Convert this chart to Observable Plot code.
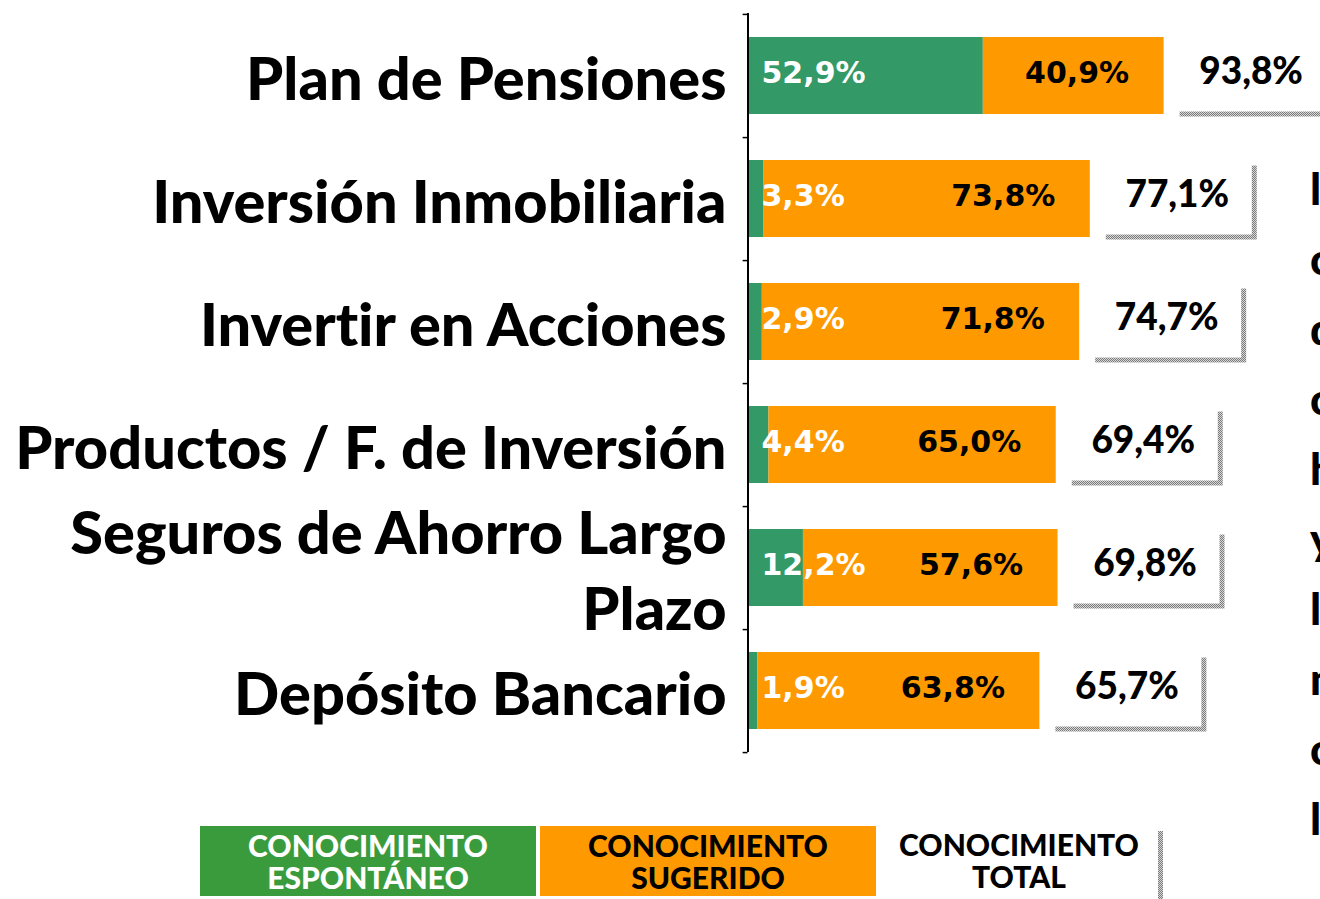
<!DOCTYPE html>
<html>
<head>
<meta charset="utf-8">
<script src="https://cdn.jsdelivr.net/npm/d3@7"></script>
<script src="https://cdn.jsdelivr.net/npm/@observablehq/plot@0.6"></script>
<style>
  html, body { margin: 0; padding: 0; background: #fff; overflow: hidden; width: 1320px; height: 899px; }
  #chart { position: absolute; left: 0; top: 0; }
  svg text { font-variant-ligatures: none; }
  .leg { position: absolute; top: 826px; height: 70px; box-sizing: border-box; display: flex; align-items: center; justify-content: center; text-align: center;
         font-family: Lato, sans-serif; font-weight: 900; font-size: 30px; line-height: 32px; font-variant-ligatures: none; }
  .pat { background: repeating-conic-gradient(#7a7a7a 0 25%, #d8d8d8 0 50%) 0 0 / 2px 2px; }
  #side { position: absolute; left: 1310px; top: 153px; font-family: Lato, sans-serif; font-weight: 900; font-size: 44px; line-height: 70px; white-space: pre; color: #000; }
</style>
</head>
<body>
<div id="chart"></div>
<div id="legend"></div>
<div id="side"></div>
<script>
// ---- data ----
const categories = ["Plan de Pensiones", "Inversión Inmobiliaria", "Invertir en Acciones", "Productos / F. de Inversión", "Seguros de Ahorro Largo Plazo", "Depósito Bancario"];
const categoryLabels = ["Plan de Pensiones", "Inversión Inmobiliaria", "Invertir en Acciones", "Productos / F. de Inversión", "Seguros de Ahorro Largo\nPlazo", "Depósito Bancario"];
const espontaneo = [52.9, 3.3, 2.9, 4.4, 12.2, 1.9];
const sugerido = [40.9, 73.8, 71.8, 65.0, 57.6, 63.8];
const total = [93.8, 77.1, 74.7, 69.4, 69.8, 65.7];
const legendLabels = ["CONOCIMIENTO\nESPONTÁNEO", "CONOCIMIENTO\nSUGERIDO", "CONOCIMIENTO\nTOTAL"];
const sideLines = ["los", "cuales", "de", "como", "han", "y", "la", "más", "conocida", "la"];

const GREEN = "#339966", ORANGE = "#ff9900";
const fmt = v => v.toFixed(1).replace(".", ",") + "%";
const rows = categories.map((c, i) => ({cat: c, label: categoryLabels[i], esp: espontaneo[i], sug: sugerido[i], tot: total[i]}));

const step = (752 - 13) / 6;

const chart = Plot.plot({
  width: 1320, height: 822,
  marginLeft: 749, marginRight: 129, marginTop: 13, marginBottom: 70,
  x: {domain: [0, 100], axis: null},
  y: {domain: categories, axis: null, paddingInner: 0.375, paddingOuter: 0.1875},
  style: {background: "white", overflow: "visible"},
  marks: [
    // shadows and white label boxes for totals
    Plot.barX(rows, {x1: "tot", x2: "tot", y: "cat", insetRight: -151, insetTop: 1.5, insetBottom: 1.5, dx: 16, dy: 4, fill: "url(#shadowPat)"}),
    Plot.barX(rows, {x1: "tot", x2: "tot", y: "cat", insetRight: -151, insetTop: 1.5, insetBottom: 1.5, dx: 11, dy: -1, fill: "white"}),
    // stacked bars
    Plot.barX(rows, {x1: 0, x2: "esp", y: "cat", fill: GREEN}),
    Plot.barX(rows, {x1: "esp", x2: "tot", y: "cat", fill: ORANGE}),
    // axis line and ticks
    Plot.ruleX([0], {stroke: "black", strokeWidth: 2, dx: -1.5}),
    Plot.ruleY(categories, {y: d => d, x1: -1.1, x2: 0, dx: -1.5, dy: step / 2, stroke: "black", strokeWidth: 1.5}),
    Plot.ruleY([categories[0]], {y: d => d, x1: -1.1, x2: 0, dx: -1.5, dy: -step / 2, stroke: "black", strokeWidth: 1.5}),
    // value labels
    Plot.text(rows, {x: 0, y: "cat", text: d => fmt(d.esp), textAnchor: "start", dx: 12, dy: -3, fill: "white",
      fontFamily: "DejaVu Sans", fontWeight: 700, fontSize: 30}),
    Plot.text(rows, {x: "tot", y: "cat", text: d => fmt(d.sug), textAnchor: "middle", dx: -87, dy: -3, fill: "black",
      fontFamily: "DejaVu Sans", fontWeight: 700, fontSize: 30}),
    Plot.text(rows, {x: "tot", y: "cat", text: d => fmt(d.tot), textAnchor: "middle", dx: 87, dy: -4, fill: "black",
      fontFamily: "Lato", fontWeight: 900, fontSize: 37}),
    // category labels
    Plot.text(rows, {x: 0, y: "cat", text: "label", textAnchor: "end", dx: -23, lineHeight: 1.28, fill: "black",
      fontFamily: "Lato", fontWeight: 900, fontSize: 59.5})
  ]
});
chart.insertAdjacentHTML("afterbegin",
  '<defs><pattern id="shadowPat" width="2" height="2" patternUnits="userSpaceOnUse">' +
  '<rect width="2" height="2" fill="#d8d8d8"/><rect width="1" height="1" fill="#7a7a7a"/><rect x="1" y="1" width="1" height="1" fill="#7a7a7a"/>' +
  '</pattern></defs>');
document.getElementById("chart").appendChild(chart);

// legend
const legend = document.getElementById("legend");
const legendSpecs = [
  {left: 200, width: 336, bg: "#3a9b3c", color: "white"},
  {left: 540, width: 336, bg: ORANGE, color: "black"},
  {left: 880, width: 278, bg: "white", color: "black", shadow: true}
];
legendSpecs.forEach((s, i) => {
  if (s.shadow) {
    const sh = document.createElement("div");
    sh.className = "pat";
    sh.style.cssText = `position:absolute;left:${s.left + 5}px;top:831px;width:${s.width}px;height:80px;`;
    legend.appendChild(sh);
  }
  const d = document.createElement("div");
  d.className = "leg";
  d.style.left = s.left + "px";
  d.style.width = s.width + "px";
  d.style.background = s.bg;
  d.style.color = s.color;
  if (s.shadow) { d.style.height = "80px"; d.style.top = "822px"; d.style.alignItems = "flex-start"; d.style.paddingTop = "6px"; }
  d.innerHTML = legendLabels[i].replace("\n", "<br>");
  legend.appendChild(d);
});

document.getElementById("side").textContent = sideLines.join("\n");
</script>
</body>
</html>
